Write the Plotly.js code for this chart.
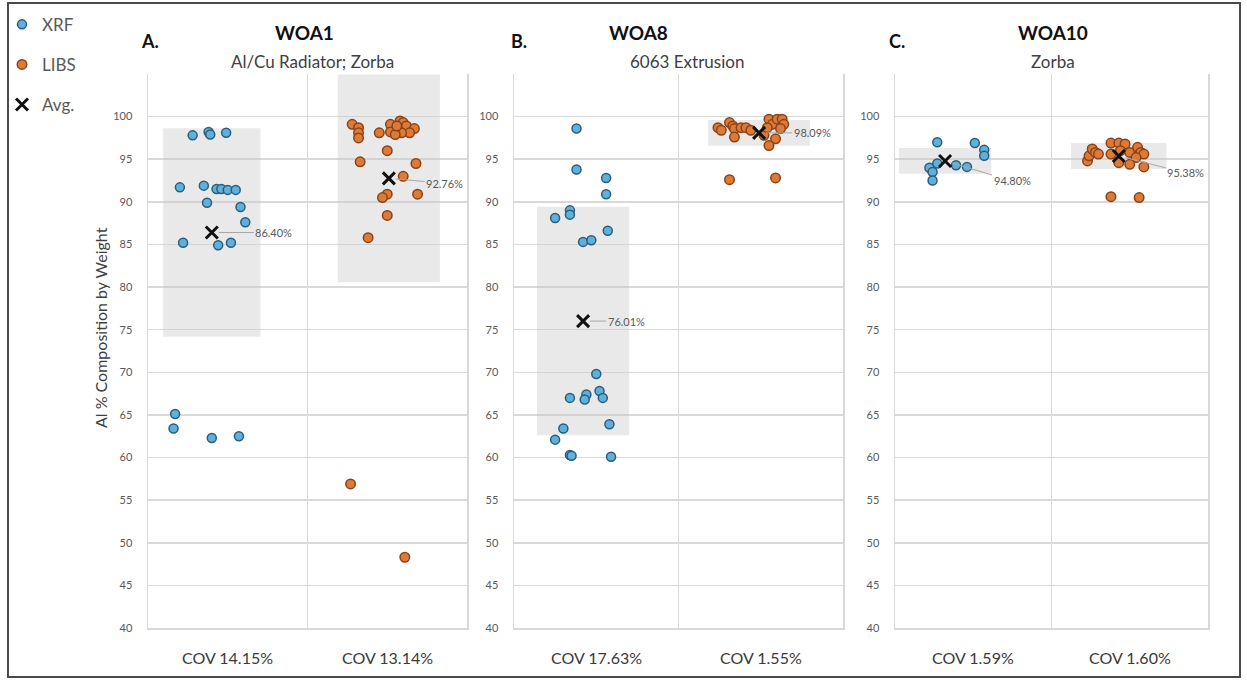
<!DOCTYPE html>
<html>
<head>
<meta charset="utf-8">
<script src="https://cdn.plot.ly/plotly-3.0.1.min.js"></script>
<style>
  html, body { margin: 0; padding: 0; background: #ffffff; }
  #chart { width: 1247px; height: 680px; }
</style>
</head>
<body>
<div id="chart"></div>
<script>
// ---- Sample groups: Al content (% by weight) per measurement ----
const panelLetters = ['A.', 'B.', 'C.'];
const panelTitles = ['WOA1', 'WOA8', 'WOA10'];
const panelSubtitles = ['Al/Cu Radiator; Zorba', '6063 Extrusion', 'Zorba'];
const seriesNames = ['XRF', 'LIBS', 'Avg.'];

// WOA1
const woa1XrfAl = [97.8, 98.2, 97.9, 98.1, 91.7, 91.9, 91.5, 91.5, 91.4, 91.4, 89.9, 89.4, 87.6, 85.2, 84.9, 85.2, 65.1, 63.4, 62.3, 62.5];
const woa1XrfJitter = [0.28, 0.38, 0.39, 0.49, 0.20, 0.35, 0.43, 0.46, 0.50, 0.55, 0.37, 0.58, 0.61, 0.22, 0.44, 0.52, 0.17, 0.16, 0.40, 0.57];
const woa1LibsAl = [99.1, 98.7, 98.1, 97.5, 98.1, 99.1, 98.2, 99.5, 99.3, 98.9, 98.6, 98.1, 98.1, 97.9, 98.9, 96.0, 94.7, 94.5, 93.0, 90.9, 90.9, 90.5, 88.4, 85.8, 56.9, 48.3];
const woa1LibsJitter = [0.28, 0.32, 0.32, 0.32, 0.45, 0.52, 0.52, 0.58, 0.60, 0.62, 0.67, 0.64, 0.59, 0.55, 0.56, 0.50, 0.33, 0.68, 0.60, 0.69, 0.50, 0.47, 0.50, 0.38, 0.27, 0.61];

// WOA8
const woa8XrfAl = [98.6, 93.8, 92.8, 90.9, 89.0, 88.5, 88.1, 86.6, 85.3, 85.5, 69.8, 67.4, 67.8, 67.0, 66.8, 67.0, 63.9, 63.4, 62.1, 60.3, 60.2, 60.1];
const woa8XrfJitter = [0.38, 0.38, 0.56, 0.56, 0.34, 0.34, 0.25, 0.57, 0.42, 0.47, 0.50, 0.44, 0.52, 0.34, 0.43, 0.54, 0.58, 0.30, 0.25, 0.34, 0.35, 0.59];
const woa8LibsAl = [98.7, 98.4, 99.3, 98.9, 98.6, 97.6, 98.7, 98.7, 98.4, 97.8, 99.7, 99.1, 99.7, 99.7, 99.1, 98.6, 97.4, 96.6, 98.7, 92.6, 92.8];
const woa8LibsJitter = [0.24, 0.26, 0.31, 0.33, 0.34, 0.34, 0.38, 0.41, 0.44, 0.52, 0.55, 0.57, 0.60, 0.63, 0.64, 0.62, 0.59, 0.55, 0.54, 0.31, 0.59];

// WOA10
const woa10XrfAl = [97.0, 96.9, 96.1, 95.4, 94.5, 94.0, 93.5, 92.5, 94.3, 94.1];
const woa10XrfJitter = [0.27, 0.51, 0.57, 0.57, 0.27, 0.22, 0.24, 0.24, 0.39, 0.46];
const woa10LibsAl = [94.8, 95.4, 96.2, 95.8, 95.6, 96.9, 96.9, 96.8, 95.6, 96.0, 95.8, 96.4, 95.8, 95.6, 95.2, 94.6, 94.4, 94.1, 90.6, 90.5];
const woa10LibsJitter = [0.23, 0.24, 0.26, 0.28, 0.30, 0.38, 0.43, 0.47, 0.38, 0.44, 0.50, 0.55, 0.57, 0.59, 0.54, 0.43, 0.50, 0.59, 0.38, 0.56];

// Group averages and coefficients of variation (%)
const avgXrf = [86.40, 76.01, 94.80];
const avgLibs = [92.76, 98.09, 95.38];
const covXrf = [14.15, 17.63, 1.59];
const covLibs = [13.14, 1.55, 1.60];
const avgJitterXrf = [0.40, 0.42, 0.32];
const avgJitterLibs = [0.51, 0.49, 0.43];

const yTicks = [40, 45, 50, 55, 60, 65, 70, 75, 80, 85, 90, 95, 100];

// ---- Styling / placement ----
const W = 1247, H = 680;
const px = v => v / W;
const py = v => 1 - v / H;

const panels = [
  { xr: woa1XrfAl, xj: woa1XrfJitter, lr: woa1LibsAl, lj: woa1LibsJitter },
  { xr: woa8XrfAl, xj: woa8XrfJitter, lr: woa8LibsAl, lj: woa8LibsJitter },
  { xr: woa10XrfAl, xj: woa10XrfJitter, lr: woa10LibsAl, lj: woa10LibsJitter }
];
const domainsX = [[px(148), px(467)], [px(514), px(843)], [px(895), px(1208)]];
const domainY = [py(628), py(74)];
const boxWidths = [[0.61, 0.64], [0.56, 0.62], [0.59, 0.61]];
const headPos = [
  { letter: [150, 41], title: [304, 32], sub: [312, 61] },
  { letter: [519, 41], title: [638, 32], sub: [687, 61] },
  { letter: [897, 41], title: [1053, 32], sub: [1053, 61] }
];
const labelOffsets = [[[62, 0], [56, 5]], [[43, 0], [53, 0]], [[67, 20], [67, 17]]];

const FONT = 'Lato, "Open Sans", "DejaVu Sans", sans-serif';
const GRID = '#d9d9d9';
const xrfMarker = { size: 9, color: '#5fb0da', line: { color: '#2a5d7c', width: 1.5 } };
const libsMarker = { size: 9.5, color: '#dc7a37', line: { color: '#8a4216', width: 1.5 } };

const traces = [];
const annotations = [];
const layout = {
  width: W, height: H,
  margin: { l: 0, r: 0, t: 0, b: 0 },
  paper_bgcolor: '#ffffff', plot_bgcolor: '#ffffff',
  barmode: 'overlay',
  hovermode: false,
  showlegend: true,
  legend: {
    x: px(2), y: 0.99, xanchor: 'left', yanchor: 'top',
    font: { family: FONT, size: 17, color: '#595959' },
    bgcolor: 'rgba(0,0,0,0)', tracegroupgap: 15, traceorder: 'grouped',
    itemwidth: 30
  },
  font: { family: FONT },
  annotations: annotations,
  shapes: [{
    type: 'rect', xref: 'paper', yref: 'paper',
    x0: px(8), x1: px(1240), y0: py(677), y1: py(3),
    line: { color: '#4a4a4a', width: 2 }, fillcolor: 'rgba(0,0,0,0)'
  }]
};

function centered(extra) {
  return Object.assign({ xanchor: 'center', yanchor: 'middle', showarrow: false }, extra);
}

// 1-SD range bands first so points sit on top
panels.forEach((p, i) => {
  const ax = i === 0 ? '' : String(i + 1);
  const sdX = avgXrf[i] * covXrf[i] / 100;
  const sdL = avgLibs[i] * covLibs[i] / 100;
  traces.push({
    type: 'bar', xaxis: 'x' + ax, yaxis: 'y' + ax,
    x: [avgJitterXrf[i], 1 + avgJitterLibs[i]],
    base: [avgXrf[i] - sdX, avgLibs[i] - sdL],
    y: [2 * sdX, 2 * sdL],
    width: boxWidths[i],
    marker: { color: 'rgba(200,200,200,0.40)', line: { width: 0 } },
    showlegend: false
  });
});

panels.forEach((p, i) => {
  const ax = i === 0 ? '' : String(i + 1);
  traces.push({
    type: 'scatter', mode: 'markers', xaxis: 'x' + ax, yaxis: 'y' + ax,
    name: seriesNames[0], legendgroup: 'xrf', showlegend: i === 0,
    x: p.xj, y: p.xr, marker: xrfMarker
  });
});
panels.forEach((p, i) => {
  const ax = i === 0 ? '' : String(i + 1);
  traces.push({
    type: 'scatter', mode: 'markers', xaxis: 'x' + ax, yaxis: 'y' + ax,
    name: seriesNames[1], legendgroup: 'libs', showlegend: i === 0,
    x: p.lj.map(j => 1 + j), y: p.lr, marker: libsMarker
  });
});
panels.forEach((p, i) => {
  const ax = i === 0 ? '' : String(i + 1);
  traces.push({
    type: 'scatter', mode: 'markers', xaxis: 'x' + ax, yaxis: 'y' + ax,
    name: seriesNames[2], legendgroup: 'avg', showlegend: i === 0,
    x: [avgJitterXrf[i], 1 + avgJitterLibs[i]], y: [avgXrf[i], avgLibs[i]],
    marker: { symbol: 'x-thin-open', size: 12, color: '#111111', line: { color: '#111111', width: 3 } }
  });

  // Axes
  layout['xaxis' + ax] = {
    domain: domainsX[i], range: [0, 2], anchor: 'y' + ax,
    tickvals: [1], showticklabels: false, ticks: '',
    showgrid: true, gridcolor: GRID, gridwidth: 1.5,
    showline: true, linecolor: GRID, linewidth: 1.5, mirror: false,
    zeroline: false, fixedrange: true
  };
  layout['yaxis' + ax] = {
    domain: domainY, range: [40, 105], anchor: 'x' + ax,
    tickvals: yTicks, ticks: '', ticklabelstandoff: 12,
    tickfont: { family: FONT, size: 11, color: '#595959' },
    showgrid: true, gridcolor: GRID, gridwidth: 1.5,
    showline: true, linecolor: GRID, linewidth: 1.5, mirror: true,
    zeroline: false, fixedrange: true
  };

  // Headings
  const hp = headPos[i];
  annotations.push(centered({ xref: 'paper', yref: 'paper', x: px(hp.letter[0]), y: py(hp.letter[1]),
    text: '<b>' + panelLetters[i] + '</b>',
    font: { family: FONT, size: 18, color: '#111111' } }));
  annotations.push(centered({ xref: 'paper', yref: 'paper', x: px(hp.title[0]), y: py(hp.title[1]),
    text: '<b>' + panelTitles[i] + '</b>',
    font: { family: FONT, size: 19, color: '#111111' } }));
  annotations.push(centered({ xref: 'paper', yref: 'paper', x: px(hp.sub[0]), y: py(hp.sub[1]),
    text: panelSubtitles[i],
    font: { family: FONT, size: 17, color: '#404040' } }));

  // COV labels under each group
  [covXrf[i], covLibs[i]].forEach((c, k) => {
    annotations.push(centered({ xref: 'x' + ax, yref: 'paper', x: 0.5 + k, y: py(657),
      text: 'COV ' + c.toFixed(2) + '%',
      font: { family: FONT, size: 16, color: '#3a3a3a' } }));
  });

  // Average value call-outs
  [[avgJitterXrf[i], avgXrf[i]], [1 + avgJitterLibs[i], avgLibs[i]]].forEach((pt, k) => {
    annotations.push({ xref: 'x' + ax, yref: 'y' + ax, x: pt[0], y: pt[1],
      text: pt[1].toFixed(2) + '%', showarrow: true, arrowhead: 0,
      arrowcolor: '#a6a6a6', arrowwidth: 1, standoff: 7,
      ax: labelOffsets[i][k][0], ay: labelOffsets[i][k][1],
      font: { family: FONT, size: 11, color: '#595959' } });
  });
});

// Shared y-axis title
annotations.push(centered({ xref: 'paper', yref: 'paper', x: px(100), y: py(328),
  text: 'Al % Composition by Weight', textangle: -90,
  font: { family: FONT, size: 16, color: '#404040' } }));

Plotly.newPlot('chart', traces, layout, { staticPlot: true, displayModeBar: false });
</script>
</body>
</html>
